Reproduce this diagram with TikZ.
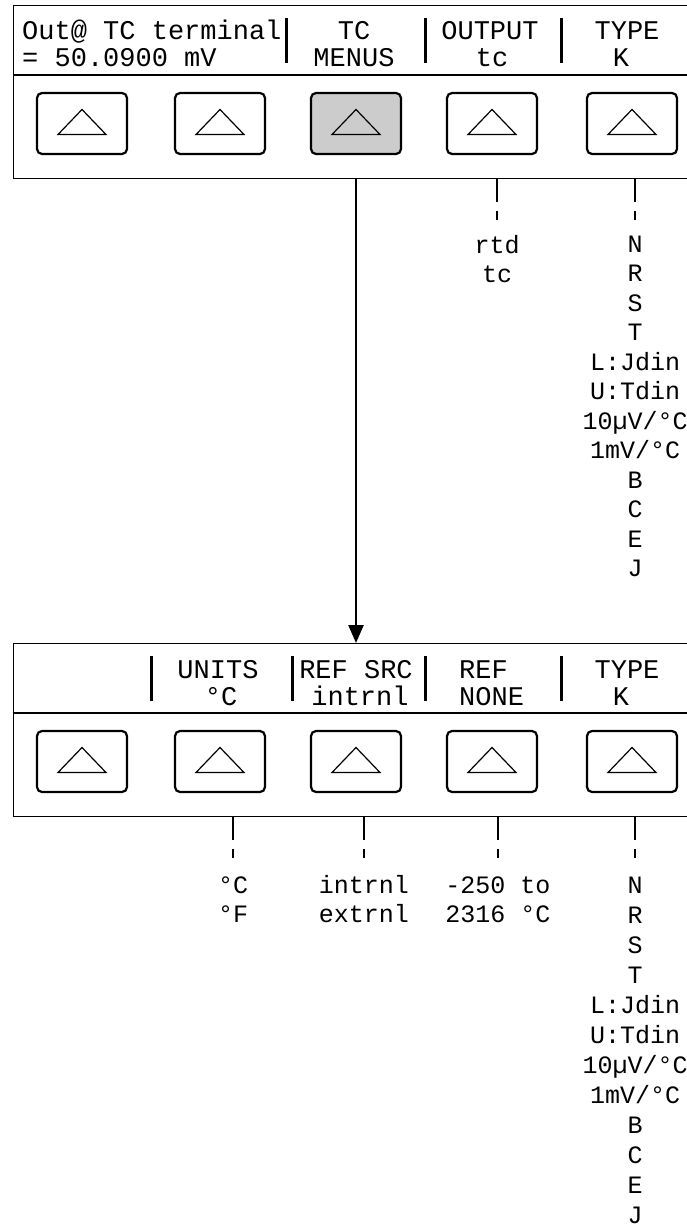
\documentclass[tikz,border=0pt]{standalone}
\usepackage{fontspec}
\setmonofont{Liberation Mono}
\usetikzlibrary{arrows.meta}

\begin{document}
\begin{tikzpicture}[
        x=1pt, y=-1pt,
        panel/.style={draw, line width=1.2pt, minimum width=700pt, minimum height=172.5pt, anchor=north west, inner sep=0pt},
        key/.style={draw, line width=2.2pt, rounded corners=5pt, minimum width=90pt, minimum height=61pt, inner sep=0pt},
        keyon/.style={key, fill=gray!40},
        lcd/.style={font=\ttfamily\fontsize{27}{27}\selectfont, inner sep=0pt, anchor=base},
        pick/.style={font=\ttfamily\fontsize{25}{25}\selectfont, inner sep=0pt, anchor=base},
        bar/.style={line width=3pt},
        lead/.style={line width=1.4pt, dash pattern=on 23pt off 9pt on 9pt off 2000pt},
        flow/.style={line width=2.5pt, -{Triangle[length=18pt, width=15pt]}}
    ]
    \useasboundingbox (0,0) rectangle (687,1228);

    % top panel
    \node[panel] (topP) at (12.5,5) {};
    \draw[line width=1.2pt] ([yshift=-70pt]topP.north west) -- ([yshift=-70pt]topP.north east);
    \node[lcd, anchor=base west] (h1a) at (22,40) {Out@ TC terminal};
    \node[lcd, anchor=base west] (h1b) at (22,67) {= 50.0900 mV};
    \node[lcd] (h2a) at (354,40) {TC};
    \node[lcd] (h2b) at (354,67) {MENUS};
    \node[lcd] (h3a) at (490,40) {OUTPUT};
    \node[lcd] (h3b) at (492,67) {tc};
    \node[lcd] (h4a) at (627,40) {TYPE};
    \node[lcd] (h4b) at (621,67) {K};
    \foreach \x in {286,425,561}
        \draw[bar] (\x,18) -- (\x,63);
    \foreach \x/\n/\s in {82/1/key,220/2/key,356/3/keyon,492/4/key,632/5/key} {
        \node[\s] (tk\n) at (\x,123.5) {};
        \draw[line width=1.2pt] (tk\n.center) ++(-24,11) -- ++(24,-25) -- ++(24,25) -- cycle;
    }

    % choices below the top panel
    \node[pick] (to1) at (497,253) {rtd};
    \node[pick] (to2) at (497,282) {tc};
    \foreach \t [count=\i] in {N,R,S,T,L:Jdin,U:Tdin,10µV/°C,1mV/°C,B,C,E,J}
        \node[pick] (tt\i) at (635,{252+(\i-1)*29.5}) {\t};
    \draw[lead] (to1.north |- topP.south) -- (to1.north);
    \draw[lead] (tt1.north |- topP.south) -- (tt1.north);

    % bottom panel
    \node[panel] (botP) at (12.5,643) {};
    \draw[line width=1.2pt] ([yshift=-70pt]botP.north west) -- ([yshift=-70pt]botP.north east);
    \node[lcd] (u2a) at (218,678) {UNITS};
    \node[lcd] (u2b) at (221,705) {°C};
    \node[lcd] (u3a) at (356,678) {REF SRC};
    \node[lcd] (u3b) at (360,705) {intrnl};
    \node[lcd, anchor=base west] (u4a) at (459,678) {REF};
    \node[lcd, anchor=base west] (u4b) at (459,705) {NONE};
    \node[lcd] (u5a) at (627,678) {TYPE};
    \node[lcd] (u5b) at (621,705) {K};
    \foreach \x in {151,292,425,561}
        \draw[bar] (\x,656) -- (\x,701);
    \foreach \x/\n in {82/1,220/2,356/3,492/4,632/5} {
        \node[key] (bk\n) at (\x,761.5) {};
        \draw[line width=1.2pt] (bk\n.center) ++(-24,11) -- ++(24,-25) -- ++(24,25) -- cycle;
    }

    % choices below the bottom panel
    \node[pick] (bu1) at (233,893) {°C};
    \node[pick] (bu2) at (233,922.5) {°F};
    \node[pick] (bs1) at (364,893) {intrnl};
    \node[pick] (bs2) at (364,922.5) {extrnl};
    \node[pick] (br1) at (498,893) {-250 to};
    \node[pick] (br2) at (498,922.5) {2316 °C};
    \foreach \t [count=\i] in {N,R,S,T,L:Jdin,U:Tdin,10µV/°C,1mV/°C,B,C,E,J}
        \node[pick] (bt\i) at (635,{893+(\i-1)*30}) {\t};
    \foreach \n in {bu1,bs1,br1,bt1}
        \draw[lead] (\n.north |- botP.south) -- (\n.north);

    % TC MENUS opens the next menu
    \draw[flow] (tk3 |- topP.south) -- (tk3 |- botP.north);
\end{tikzpicture}
\end{document}
